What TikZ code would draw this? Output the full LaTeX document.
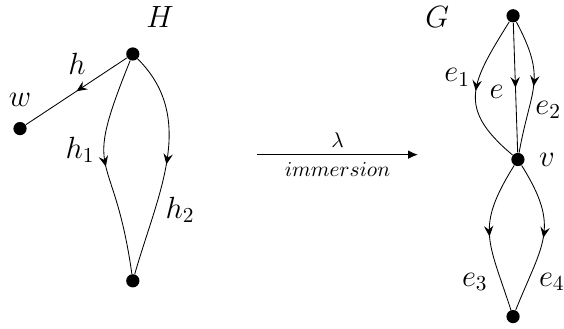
\documentclass[tikz,border=0pt]{standalone}
\usepackage{amsmath}
\usepackage{amssymb}
\usepackage{tikz}
\usetikzlibrary{positioning, arrows.meta, decorations.markings}

\tikzset{
    vertex/.style={circle, fill=black, inner sep=0pt, minimum size=6.2pt},
    midarrow/.style={decoration={markings, mark=at position 0.5 with {\arrow{Stealth[length=5pt,width=4.4pt,inset=1.8pt]}}}, postaction={decorate}},
    lbl/.style={font=\fontsize{14}{16}\selectfont}
}

\begin{document}
\begin{tikzpicture}[every node/.style={font=\normalsize}]
    \useasboundingbox (0,0) rectangle (9.30,5.42);

    % the graph H
    \node[vertex] (htop) at (2.19,4.53) {};
    \node[vertex] (hbot) at (2.19,0.79) {};
    \node[vertex] (w) at (0.33,3.30) {};
    \node[lbl] (Hname) at (2.64,5.14) {$H$};
    \node[lbl] (wname) at (0.33,3.78) {$w$};

    \draw[midarrow] (htop) -- (w);
    \draw[midarrow] (htop) to[out=-112,in=98,looseness=1.6] (hbot);
    \draw[midarrow] (htop) to[out=-45,in=74] (hbot);

    \node[lbl] (hl) at (1.27,4.37) {$h$};
    \node[lbl] (hl1) at (1.32,2.95) {$h_1$};
    \node[lbl] (hl2) at (2.97,1.96) {$h_2$};

    % the map
    \coordinate (mapA) at (4.24,2.87);
    \coordinate (mapB) at (6.89,2.87);
    \draw[-{Latex[length=1.6mm,width=1.4mm]}] (mapA) -- node[above] (lam) {$\lambda$} node[below] (imm) {$immersion$} (mapB);

    % the graph G
    \node[vertex] (gtop) at (8.46,5.16) {};
    \node[vertex] (v) at (8.54,2.79) {};
    \node[vertex] (gbot) at (8.46,0.20) {};
    \node[lbl] (Gname) at (7.21,5.14) {$G$};
    \node[lbl] (vname) at (9.02,2.79) {$v$};

    \draw[midarrow] (gtop) to[out=-122,in=140,looseness=1.4] (v);
    \draw[midarrow] (gtop) -- (v);
    \draw[midarrow] (gtop) to[out=-62,in=80,looseness=1.3] (v);
    \draw[midarrow] (v) to[out=-122,in=108,looseness=1.3] (gbot);
    \draw[midarrow] (v) to[out=-58,in=68,looseness=1.3] (gbot);

    \node[lbl] (el1) at (7.54,4.14) {$e_1$};
    \node[lbl] (el) at (8.19,3.91) {$e$};
    \node[lbl] (el2) at (9.04,3.61) {$e_2$};
    \node[lbl] (el3) at (7.83,0.77) {$e_3$};
    \node[lbl] (el4) at (9.10,0.77) {$e_4$};
\end{tikzpicture}
\end{document}
